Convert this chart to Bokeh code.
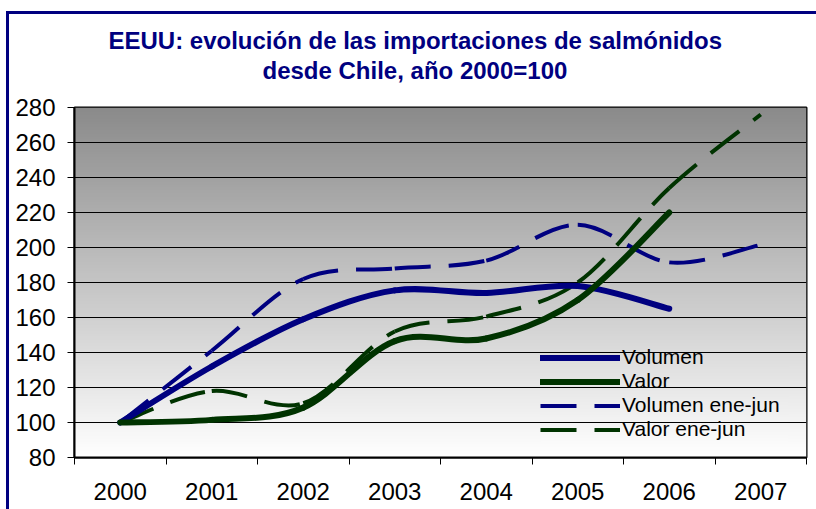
import numpy as np
from bokeh.plotting import figure
from bokeh.models import (Range1d, FixedTicker, Title, Legend, LegendItem,
                          ColumnDataSource)
from bokeh.embed import file_html
from bokeh.resources import INLINE

# ---- data ----
years = ["2000", "2001", "2002", "2003", "2004", "2005", "2006", "2007"]
volumen = [100, 132, 159, 175.5, 174, 178, 165]
valor = [100, 101.5, 108.5, 146.5, 148, 170, 220]
volumen_ej = [100, 141, 182, 188, 192.5, 213, 191.5, 201.5]
valor_ej = [100, 118, 111, 152, 160.5, 180, 234, 276]
y_ticks = [80, 100, 120, 140, 160, 180, 200, 220, 240, 260, 280]
title_lines = ["EEUU: evolución de las importaciones de salmónidos",
               "desde Chile, año 2000=100"]

NAVY = "#000080"
GREEN = "#003300"
FONT = "Liberation Sans"
TOP_GREY = 138  # grey level at the top of the plot-area gradient


def smooth_source(vals):
    """Catmull-Rom style bezier segments through the data points (Excel-like smoothing)."""
    pts = [(i, v) for i, v in enumerate(vals)]
    n = len(pts)
    d = dict(x0=[], y0=[], x1=[], y1=[], cx0=[], cy0=[], cx1=[], cy1=[])
    for i in range(n - 1):
        p0 = pts[i - 1] if i > 0 else pts[i]
        p1 = pts[i]
        p2 = pts[i + 1]
        p3 = pts[i + 2] if i + 2 < n else pts[i + 1]
        d["x0"].append(p1[0]); d["y0"].append(p1[1])
        d["x1"].append(p2[0]); d["y1"].append(p2[1])
        d["cx0"].append(p1[0] + (p2[0] - p0[0]) / 6.0)
        d["cy0"].append(p1[1] + (p2[1] - p0[1]) / 6.0)
        d["cx1"].append(p2[0] - (p3[0] - p1[0]) / 6.0)
        d["cy1"].append(p2[1] - (p3[1] - p1[1]) / 6.0)
    return ColumnDataSource(d)


y_min, y_max = y_ticks[0], y_ticks[-1]
x_lo, x_hi = -0.5, len(years) - 0.5


def gradient_image(ya, yb, rows=256):
    """vertical grey gradient image covering data heights ya..yb"""
    img = np.zeros((rows, 1), dtype=np.uint32)
    view = img.view(dtype=np.uint8).reshape((rows, 1, 4))
    for i in range(rows):
        yv = ya + (yb - ya) * (i + 0.5) / rows
        g = int(round(255 - (255 - TOP_GREY) * (yv - y_min) / (y_max - y_min)))
        view[i, 0, :3] = g
        view[i, 0, 3] = 255
    return img


p = figure(width=816, height=509, output_backend="svg", toolbar_location=None,
           title=None, x_range=Range1d(x_lo, x_hi), y_range=Range1d(y_min, y_max),
           min_border_left=74, min_border_right=10, min_border_top=107,
           min_border_bottom=52,
           background_fill_color="white", border_fill_color="white",
           border_fill_alpha=0.0)
# chart-area border (navy, left and top visible), drawn behind the transparent canvas border
p.styles = {"background-color": "white",
            "box-shadow": "inset 6px 11px 0 0 white, inset 9px 14px 0 0 #000080"}

# gradient background of plot area (grey at top -> white at bottom)
bg = p.image_rgba(image=[gradient_image(y_min, y_max)], x=x_lo, y=y_min,
                  dw=x_hi - x_lo, dh=y_max - y_min)
bg.level = "image"

# legend area: same gradient drawn over the grid lines (legend itself is transparent)
leg_x0, leg_x1, leg_y0, leg_y1 = 4.59, 7.30, 88.5, 144.5
patch = p.image_rgba(image=[gradient_image(leg_y0, leg_y1)], x=leg_x0, y=leg_y0,
                     dw=leg_x1 - leg_x0, dh=leg_y1 - leg_y0)
patch.level = "underlay"

# titles
t2 = Title(text=title_lines[1], align="left", text_font=FONT,
           text_font_size="24px", text_font_style="bold", text_color=NAVY,
           offset=188, standoff=47)
t1 = Title(text=title_lines[0], align="left", text_font=FONT,
           text_font_size="24px", text_font_style="bold", text_color=NAVY,
           offset=34, standoff=-44)
p.add_layout(t2, "above")
p.add_layout(t1, "above")

# series
p.bezier(source=smooth_source(volumen_ej), x0="x0", y0="y0", x1="x1", y1="y1",
         cx0="cx0", cy0="cy0", cx1="cx1", cy1="cy1",
         line_color=NAVY, line_width=4, line_dash="36 18")
p.bezier(source=smooth_source(valor_ej), x0="x0", y0="y0", x1="x1", y1="y1",
         cx0="cx0", cy0="cy0", cx1="cx1", cy1="cy1",
         line_color=GREEN, line_width=4, line_dash="36 18")
p.bezier(source=smooth_source(volumen), x0="x0", y0="y0", x1="x1", y1="y1",
         cx0="cx0", cy0="cy0", cx1="cx1", cy1="cy1",
         line_color=NAVY, line_width=6, line_cap="round")
p.bezier(source=smooth_source(valor), x0="x0", y0="y0", x1="x1", y1="y1",
         cx0="cx0", cy0="cy0", cx1="cx1", cy1="cy1",
         line_color=GREEN, line_width=6, line_cap="round")

# legend proxies (a single NaN point: nothing drawn on the plot)
l1 = p.line([np.nan], [np.nan], line_color=NAVY, line_width=6, line_cap="round")
l2 = p.line([np.nan], [np.nan], line_color=GREEN, line_width=6, line_cap="round")
l3 = p.line([np.nan], [np.nan], line_color=NAVY, line_width=4, line_dash="36 18")
l4 = p.line([np.nan], [np.nan], line_color=GREEN, line_width=4, line_dash="36 18")
legend = Legend(items=[LegendItem(label="Volumen", renderers=[l1]),
                       LegendItem(label="Valor", renderers=[l2]),
                       LegendItem(label="Volumen ene-jun", renderers=[l3]),
                       LegendItem(label="Valor ene-jun", renderers=[l4])],
                location=(466, 16), padding=3, spacing=0, margin=0,
                glyph_width=80, glyph_height=21, label_height=21,
                label_standoff=2, label_text_font=FONT,
                label_text_font_size="21px", label_text_color="black",
                border_line_color=None, background_fill_alpha=0.0)
p.add_layout(legend)

# axes
p.yaxis.ticker = FixedTicker(ticks=y_ticks)
p.yaxis.major_tick_out = 7
p.yaxis.major_tick_in = 0
p.yaxis.minor_tick_out = 0
p.yaxis.minor_tick_in = 0
p.yaxis.axis_line_width = 2
p.yaxis.axis_line_color = "black"
p.yaxis.major_tick_line_color = "black"
p.yaxis.major_label_standoff = 12
p.yaxis.major_label_text_font = FONT
p.yaxis.major_label_text_font_size = "24px"
p.yaxis.major_label_text_color = "black"

p.xaxis.ticker = FixedTicker(ticks=list(range(len(years))),
                             minor_ticks=[i - 0.5 for i in range(len(years) + 1)])
p.xaxis.major_label_overrides = {i: y for i, y in enumerate(years)}
p.xaxis.major_tick_out = 0
p.xaxis.major_tick_in = 0
p.xaxis.minor_tick_out = 7
p.xaxis.minor_tick_in = 0
p.xaxis.minor_tick_line_color = "black"
p.xaxis.axis_line_width = 2
p.xaxis.axis_line_color = "black"
p.xaxis.major_label_standoff = 18
p.xaxis.major_label_text_font = FONT
p.xaxis.major_label_text_font_size = "24px"
p.xaxis.major_label_text_color = "black"

p.xgrid.visible = False
p.ygrid.ticker = FixedTicker(ticks=y_ticks)
p.ygrid.grid_line_color = "black"
p.ygrid.grid_line_width = 1

p.outline_line_color = "black"
p.outline_line_width = 2

open("out.html", "w").write(file_html(p, INLINE))
